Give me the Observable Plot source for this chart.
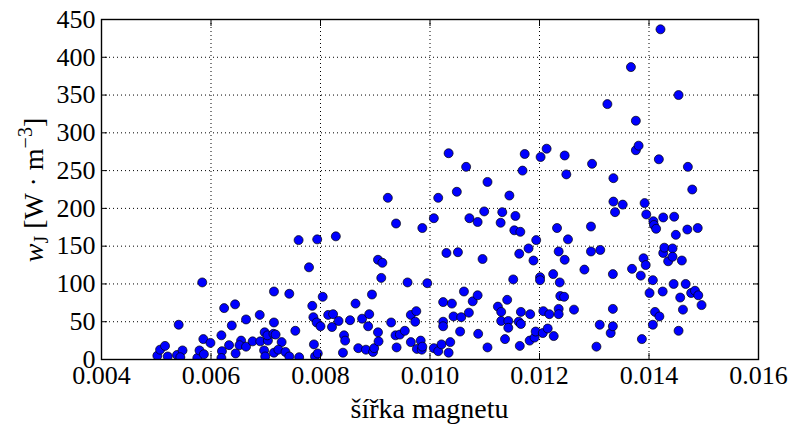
<!DOCTYPE html>
<html><head><meta charset="utf-8">
<script src="https://cdn.jsdelivr.net/npm/d3@7"></script>
<script src="https://cdn.jsdelivr.net/npm/@observablehq/plot@0.6"></script>
<style>
body{margin:0;background:#fff}
#chart svg { background: white; color: black; }
#chart svg text { font-family: 'Liberation Serif', serif !important; font-size: 26px !important; fill: black; }
#chart svg text.axis-title { font-size: 28px !important; }
</style>
</head><body><div id="chart"></div>
<script>
// magnet width (m) and Joule loss density w_J (W·m^-3)
const magnetWidth = [
0.00502,0.00507,0.00516,0.00521,0.00538,0.00541,0.00548,0.00544,0.00575,0.00579,
0.00584,0.00586,0.00587,0.00599,0.00619,0.00620,0.00619,0.00624,0.00633,0.00638,
0.00644,0.00645,0.00655,0.00652,0.00664,0.00664,0.00676,0.00689,0.00690,0.00698,
0.00697,0.00699,0.00704,0.00703,0.00715,0.00715,0.00714,0.00718,0.00715,0.00729,
0.00723,0.00736,0.00743,0.00743,0.00754,0.00760,0.00761,0.00779,0.00785,0.00787,
0.00788,0.00790,0.00794,0.00793,0.00795,0.00800,0.00804,0.00814,0.00823,0.00821,
0.00828,0.00833,0.00843,0.00845,0.00841,0.00854,0.00864,0.00869,0.00876,0.00883,
0.00887,0.00889,0.00894,0.00896,0.00898,0.00905,0.00913,0.00911,0.00905,0.00906,
0.00923,0.00929,0.00938,0.00937,0.00939,
0.00945,0.00954,0.00959,0.00965,0.00965,0.00975,0.00973,0.00976,0.00983,0.00986,
0.00985,0.00986,0.00995,0.01007,0.01015,0.01021,0.01007,0.01015,0.01024,0.01024,
0.01024,0.01030,0.01034,0.01034,0.01037,0.01040,0.01043,0.01049,0.01051,0.01055,
0.01057,0.01062,0.01066,0.01071,0.01072,0.01078,0.01087,0.01087,0.01088,0.01096,
0.01099,0.01105,0.01105,0.01124,0.01129,0.01132,0.01130,0.01130,0.01137,0.01141,
0.01143,0.01143,0.01145,0.01152,0.01156,0.01154,0.01163,0.01165,0.01164,0.01166,
0.01162,0.01166,0.01169,0.01173,0.01180,0.01183,0.01182,0.01189,0.01191,0.01194,
0.01193,0.01201,0.01201,0.01202,0.01207,0.01206,0.01213,0.01215,0.01218,0.01225,
0.01226,0.01232,0.01235,0.01237,0.01238,0.01245,0.01235,0.01235,0.01246,0.01249,
0.01246,0.01252,0.01263,0.01282,0.01294,0.01294,0.01296,0.01304,0.01310,0.01311,
0.01324,0.01330,0.01334,0.01334,0.01334,0.01335,0.01335,0.01338,0.01352,0.01367,
0.01369,0.01376,0.01376,0.01381,0.01385,0.01387,0.01390,0.01392,0.01394,0.01395,
0.01401,0.01407,0.01407,0.01408,0.01409,0.01411,0.01413,0.01418,0.01419,0.01421,
0.01426,0.01426,0.01428,0.01425,0.01435,0.01443,0.01445,0.01443,0.01446,0.01449,
0.01454,0.01454,0.01457,0.01460,0.01462,0.01467,0.01470,0.01471,0.01477,0.01479,
0.01484,0.01489,0.01490,0.01496
];
const jouleDensity = [
5,13,18,4,6,46,12,3,2,12,
102,27,7,22,32,11,2,68,19,45,
73,8,25,19,53,17,24,59,24,36,
12,4,25,32,90,49,34,33,9,23,
13,10,87,4,38,158,3,122,71,56,
20,4,159,49,8,44,83,59,60,43,
163,51,32,25,9,52,74,15,54,13,
44,60,86,10,15,132,128,108,36,24,
214,49,180,32,16,
33,38,102,59,23,64,50,14,25,174,
13,17,101,15,11,20,187,214,50,44,
76,141,273,9,23,74,57,222,142,37,
56,90,255,62,187,77,182,85,34,133,
196,235,16,70,181,195,63,51,27,79,
51,42,217,106,190,171,140,169,18,63,
50,47,250,272,147,60,25,131,29,158,
37,109,105,268,64,35,279,41,60,113,
31,174,143,102,84,83,67,60,270,245,
132,159,66,119,176,143,259,17,46,145,
338,35,44,67,113,240,209,195,205,387,
120,316,277,283,111,27,134,207,125,192,
88,105,46,183,178,63,173,265,57,437,
141,188,148,90,130,147,100,136,189,165,
38,350,82,131,66,100,172,255,88,225,
91,174,85,72
];
const xTicks = [0.004, 0.006, 0.008, 0.010, 0.012, 0.014, 0.016];
const yTicks = [0, 50, 100, 150, 200, 250, 300, 350, 400, 450];
const xLabel = "šířka magnetu";

const points = magnetWidth.map((w, i) => ({w, j: jouleDensity[i]}));
const innerX = xTicks.slice(1, -1);
const innerY = yTicks.slice(1, -1);

const chart = Plot.plot({
  width: 790,
  height: 425,
  marginLeft: 101,
  marginRight: 32,
  marginTop: 19,
  marginBottom: 66,
  x: {domain: [0.004, 0.016]},
  y: {domain: [0, 450]},
  marks: [
    Plot.gridX(innerX, {stroke: "black", strokeOpacity: 1, strokeWidth: 1, strokeDasharray: "1,3"}),
    Plot.gridY(innerY, {stroke: "black", strokeOpacity: 1, strokeWidth: 1, strokeDasharray: "1,3"}),
    Plot.dot(points, {x: "w", y: "j", r: 4.5, fill: "#0000ff", stroke: "black", strokeWidth: 0.7, clip: true}),
    Plot.axisX(xTicks, {anchor: "bottom", tickSize: -6, tickFormat: () => "", label: null}),
    Plot.axisX(xTicks, {anchor: "top", tickSize: -6, tickFormat: () => "", label: null}),
    Plot.axisY(yTicks, {anchor: "left", tickSize: -6, tickFormat: () => "", label: null}),
    Plot.axisY(yTicks, {anchor: "right", tickSize: -6, tickFormat: () => "", label: null}),
    Plot.axisX(xTicks, {anchor: "bottom", tickSize: 0, tickPadding: 6, tickFormat: d => d.toFixed(3), label: null}),
    Plot.axisY(yTicks, {anchor: "left", tickSize: 0, tickPadding: 6, tickFormat: d => String(d), label: null}),
    Plot.frame({stroke: "black", strokeWidth: 1.4})
  ]
});
document.getElementById("chart").appendChild(chart);

const svg = d3.select(chart);
svg.append("text")
  .attr("class", "axis-title")
  .attr("x", 429.5).attr("y", 418)
  .attr("text-anchor", "middle")
  .text(xLabel);

const yl = svg.append("text")
  .attr("class", "axis-title")
  .attr("transform", "translate(43,190) rotate(-90)")
  .attr("text-anchor", "middle");
yl.append("tspan").style("font-style", "italic").text("w");
yl.append("tspan").attr("dy", 5).style("font-size", "20px").text("J");
yl.append("tspan").attr("dy", -5).text(" [W · m");
yl.append("tspan").attr("dy", -11).style("font-size", "20px").text("−3");
yl.append("tspan").attr("dy", 11).text("]");
</script>
</body></html>
